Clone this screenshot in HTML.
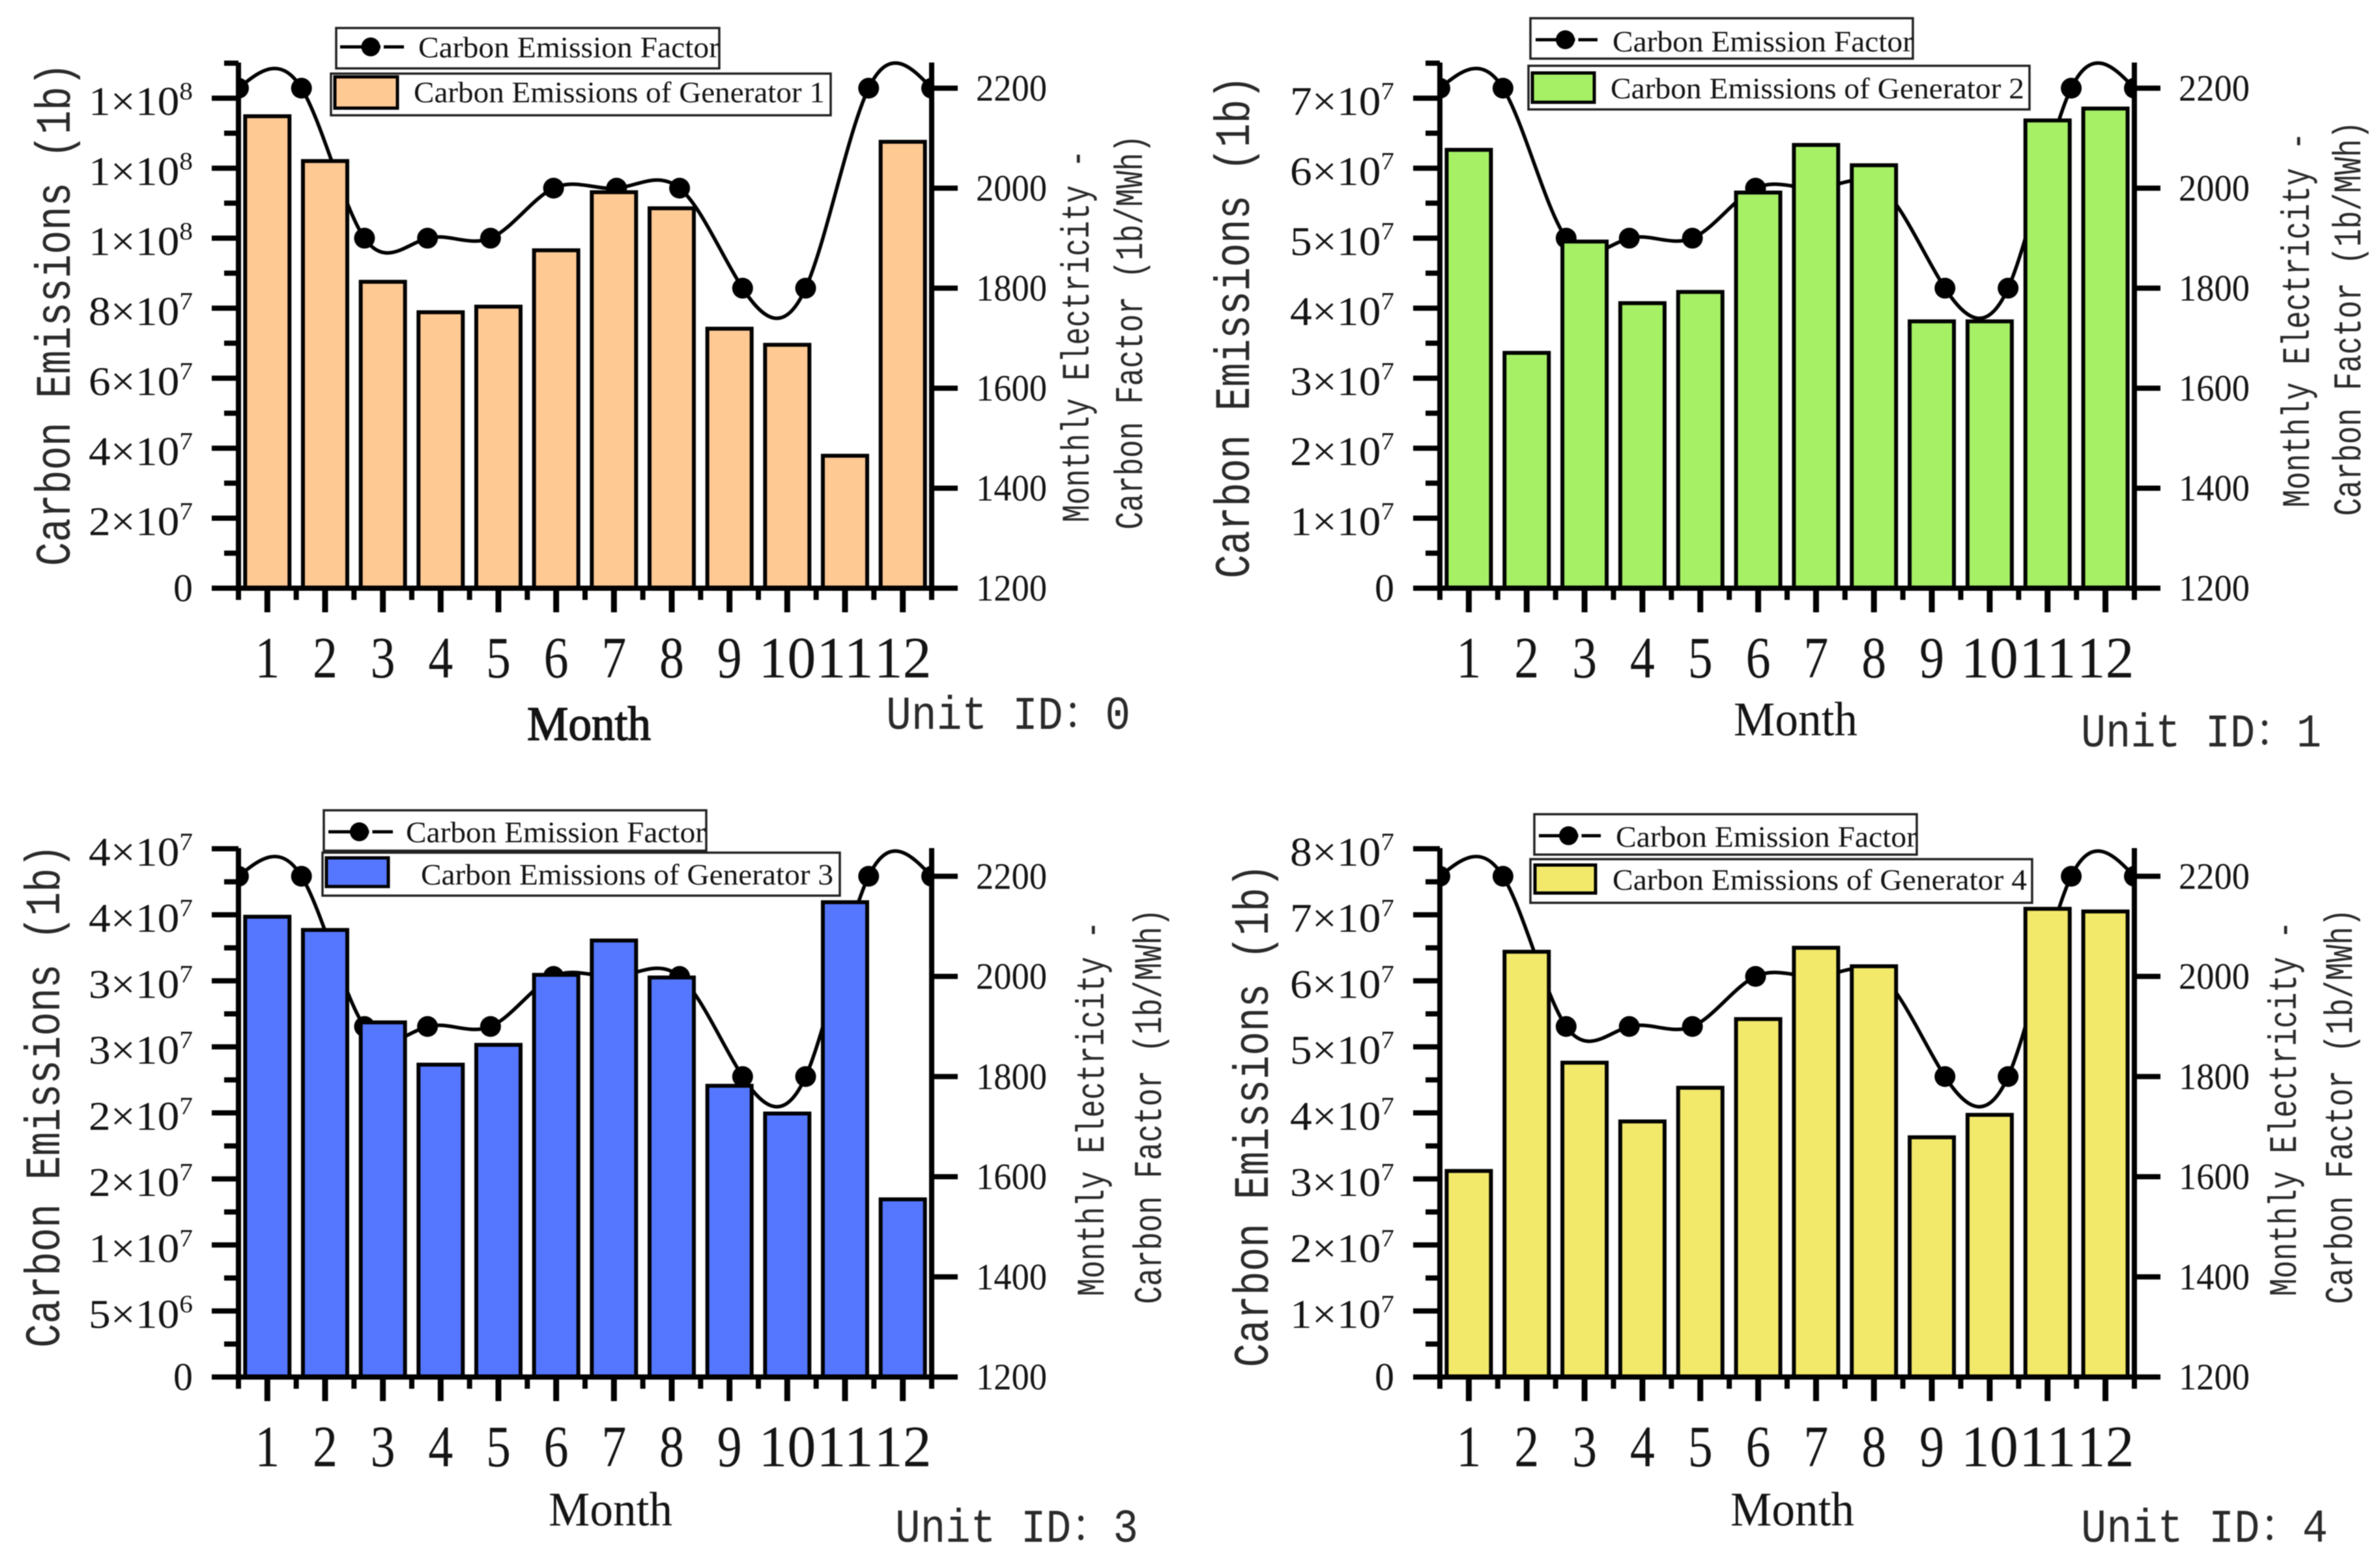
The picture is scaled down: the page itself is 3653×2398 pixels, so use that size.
<!DOCTYPE html>
<html lang="en">
<head>
<meta charset="utf-8">
<title>Monthly Carbon Emissions by Generator</title>
<style>
html,body{margin:0;padding:0;background:#fff;}
#figure{display:block;width:3653px;height:2398px;background:#fff;filter:blur(0.7px);}
text{fill:#141414;white-space:pre;}
.serif{font-family:"Liberation Serif","Noto Serif CJK SC",serif;}
.mono{font-family:"Liberation Mono","Noto Serif CJK SC",monospace;fill:#2a2a2a;}
</style>
</head>
<body>
<svg id="figure" xmlns="http://www.w3.org/2000/svg" width="3653" height="2398" viewBox="0 0 3653 2398"></svg>
<script>
// ---- Chart data ----
const months = ['1','2','3','4','5','6','7','8','9','10','11','12'];
const emissionFactor = [2200,2200,1900,1900,1900,2000,2000,2000,1800,1800,2200,2200];
const gen1Emissions = [1.354e8,1.226e8,8.81e7,7.94e7,8.10e7,9.71e7,1.137e8,1.091e8,7.47e7,7.01e7,3.84e7,1.281e8];
const gen2Emissions = [6.29e7,3.39e7,4.98e7,4.10e7,4.26e7,5.68e7,6.36e7,6.07e7,3.84e7,3.84e7,6.71e7,6.88e7];
const gen3Emissions = [3.50e7,3.40e7,2.70e7,2.38e7,2.53e7,3.06e7,3.32e7,3.04e7,2.22e7,2.01e7,3.61e7,1.36e7];
const gen4Emissions = [3.15e7,6.47e7,4.79e7,3.90e7,4.41e7,5.45e7,6.53e7,6.25e7,3.66e7,4.00e7,7.12e7,7.08e7];
const gen1TickValues = [0,2e7,4e7,6e7,8e7,1e8,1.2e8,1.4e8];
const gen2TickValues = [0,1e7,2e7,3e7,4e7,5e7,6e7,7e7];
const gen3TickValues = [0,5e6,1e7,1.5e7,2e7,2.5e7,3e7,3.5e7,4e7];
const gen4TickValues = [0,1e7,2e7,3e7,4e7,5e7,6e7,7e7,8e7];
const gen1TickLabels = ['0','2×10^7','4×10^7','6×10^7','8×10^7','1×10^8','1×10^8','1×10^8'];
const gen2TickLabels = ['0','1×10^7','2×10^7','3×10^7','4×10^7','5×10^7','6×10^7','7×10^7'];
const gen3TickLabels = ['0','5×10^6','1×10^7','2×10^7','2×10^7','3×10^7','3×10^7','4×10^7','4×10^7'];
const gen4TickLabels = ['0','1×10^7','2×10^7','3×10^7','4×10^7','5×10^7','6×10^7','7×10^7','8×10^7'];
const factorTickValues = [1200,1400,1600,1800,2000,2200];

// ---- Panel layout ----
const panels = [
  {id:1, unit:0, color:'#FFC994', values:gen1Emissions, ticks:gen1TickValues, labels:gen1TickLabels, leftMax:1.5e8, rightMax:2250,
   left:366, right:1430, top:97, base:903,
   yTitle:[107,96,869], r1:[1671,230,802], r2:[1753,207,813],
   month:[904,1136,1], unitText:[1360,1119,375],
   box1:[516,43,588,62], box2:[508,113,767,64], swatch:[514,118,96,48],
   marker:[522,620,72], text1:[642,88,462], text2:[635,157,631]},
  {id:2, unit:1, color:'#A6F066', values:gen2Emissions, ticks:gen2TickValues, labels:gen2TickLabels, leftMax:7.5e7, rightMax:2250,
   left:2210, right:3276, top:97, base:903,
   yTitle:[1917,116,888], r1:[3544,203,779], r2:[3623,186,792],
   month:[2756,1129,0], unitText:[3194,1146,369],
   box1:[2349,28,587,62], box2:[2346,101,769,67], swatch:[2352,112,95,45],
   marker:[2357,2452,61], text1:[2475,79,461], text2:[2472,151,635]},
  {id:3, unit:3, color:'#5577FF', values:gen3Emissions, ticks:gen3TickValues, labels:gen3TickLabels, leftMax:4e7, rightMax:2255,
   left:366, right:1430, top:1303, base:2114,
   yTitle:[91,1296,2069], r1:[1694,1414,1990], r2:[1782,1395,2002],
   month:[937,2342,0], unitText:[1374,2367,373],
   box1:[497,1244,587,62], box2:[495,1309,794,66], swatch:[501,1317,95,44],
   marker:[504,603,1277], text1:[623,1293,460], text2:[646,1358,633]},
  {id:4, unit:4, color:'#F2E96B', values:gen4Emissions, ticks:gen4TickValues, labels:gen4TickLabels, leftMax:8e7, rightMax:2255,
   left:2210, right:3276, top:1303, base:2114,
   yTitle:[1946,1326,2099], r1:[3524,1414,1990], r2:[3610,1395,2002],
   month:[2751,2342,0], unitText:[3194,2367,379],
   box1:[2355,1250,587,62], box2:[2349,1319,770,67], swatch:[2356,1328,93,43],
   marker:[2362,2457,1283], text1:[2480,1300,462], text2:[2475,1366,636]}
];

const SVG_NS = 'http://www.w3.org/2000/svg';
const figure = document.getElementById('figure');

function make(tag, parent, attrs) {
  const node = document.createElementNS(SVG_NS, tag);
  for (const key in attrs) node.setAttribute(key, attrs[key]);
  parent.appendChild(node);
  return node;
}

function fittedText(parent, cls, x, y, size, width, content, anchor) {
  const node = make('text', parent, {class:cls, x:x, y:y, 'font-size':size, textLength:width, lengthAdjust:'spacingAndGlyphs', 'text-anchor':anchor || 'start'});
  node.textContent = content;
  return node;
}

function rotatedText(parent, cls, baselineX, y0, y1, size, content) {
  const cy = (y0 + y1) / 2;
  const node = make('text', parent, {class:cls, x:baselineX, y:cy, 'font-size':size, textLength:y1 - y0, lengthAdjust:'spacingAndGlyphs', 'text-anchor':'middle', transform:'rotate(-90 ' + baselineX + ' ' + cy + ')'});
  node.textContent = content;
  return node;
}

// Natural cubic spline through pixel points, returned as a Bezier path.
function splinePath(xs, ys) {
  const n = xs.length;
  const h = xs[1] - xs[0];
  const a = new Array(n).fill(0), c = new Array(n).fill(0), m = new Array(n).fill(0);
  for (let i = 1; i < n - 1; i++) {
    const rhs = 6 * (ys[i + 1] - 2 * ys[i] + ys[i - 1]) / (h * h);
    const pivot = 4 - c[i - 1];
    c[i] = 1 / pivot;
    a[i] = (rhs - a[i - 1]) / pivot;
  }
  for (let i = n - 2; i >= 1; i--) m[i] = a[i] - c[i] * m[i + 1];
  let d = 'M' + xs[0] + ' ' + ys[0];
  for (let i = 0; i < n - 1; i++) {
    const slope0 = (ys[i + 1] - ys[i]) / h - h * (2 * m[i] + m[i + 1]) / 6;
    const slope1 = (ys[i + 1] - ys[i]) / h + h * (m[i] + 2 * m[i + 1]) / 6;
    d += 'C' + (xs[i] + h / 3).toFixed(2) + ' ' + (ys[i] + slope0 * h / 3).toFixed(2) + ' ' +
         (xs[i + 1] - h / 3).toFixed(2) + ' ' + (ys[i + 1] - slope1 * h / 3).toFixed(2) + ' ' +
         xs[i + 1].toFixed(2) + ' ' + ys[i + 1].toFixed(2);
  }
  return d;
}

panels.forEach(function (p) {
  const leftY = function (v) { return p.base - (v / p.leftMax) * (p.base - p.top); };
  const rightY = function (v) { return p.base - ((v - 1200) / (p.rightMax - 1200)) * (p.base - p.top); };
  const band = (p.right - p.left) / months.length;
  const bandX = function (i) { return p.left + band * (i + 0.5); };
  const lineX = function (i) { return p.left + (p.right - p.left) * i / (emissionFactor.length - 1); };

  const panel = make('g', figure, {});
  
  

  // Clip region for the line series
  const clip = make('clipPath', panel, {id:'plot-clip-' + p.id});
  make('rect', clip, {x:p.left, y:p.top - 20, width:p.right - p.left, height:p.base - p.top + 20});

  // Emission factor line (drawn behind the bars)
  const series = make('g', panel, {'clip-path':'url(#plot-clip-' + p.id + ')'});
  
  
  const xs = emissionFactor.map(function (v, i) { return lineX(i); });
  const ys = emissionFactor.map(function (v) { return rightY(v); });
  const curve = make('path', series, {d:splinePath(xs, ys), fill:'none', stroke:'#000', 'stroke-width':5.5});
  
  
  emissionFactor.forEach(function (v, i) {
    const dot = make('circle', series, {cx:lineX(i), cy:rightY(v), r:16, fill:'#000'});
    
    
  });

  // Bars (the outer edge of the outline sits on the value)
  const barGroup = make('g', panel, {});
  
  
  p.values.forEach(function (v, i) {
    const barTop = leftY(v) + 3;
    const bar = make('rect', barGroup, {x:bandX(i) - 34, y:barTop, width:68, height:p.base - barTop, fill:p.color, stroke:'#000', 'stroke-width':6});
    
    
  });

  // Axes
  const axisGroup = make('g', panel, {stroke:'#000', fill:'none'});
  
  
  const leftAxis = make('line', axisGroup, {x1:p.left, x2:p.left, y1:p.top - 1, y2:p.base + 4, 'stroke-width':8});
  
  
  const rightAxis = make('line', axisGroup, {x1:p.right, x2:p.right, y1:p.top - 1, y2:p.base + 4, 'stroke-width':8});
  
  
  const xAxis = make('line', axisGroup, {x1:p.left - 41, x2:p.right + 40, y1:p.base, y2:p.base, 'stroke-width':8});
  
  

  // Left ticks and labels
  p.ticks.forEach(function (v, i) {
    const y = leftY(v);
    const tick = make('line', axisGroup, {x1:p.left - 41, x2:p.left, y1:y, y2:y, 'stroke-width':8});
    
    

    const step = p.ticks[1] - p.ticks[0];
    if (v + step / 2 <= p.leftMax) {
      const my = leftY(v + step / 2);
      const minor = make('line', axisGroup, {x1:p.left - 22, x2:p.left, y1:my, y2:my, 'stroke-width':8});
      
      
    }

    const parts = p.labels[i].split('^');
    const labelRight = p.left - 70;
    if (parts.length === 1) {
      const zero = make('text', panel, {class:'serif', x:labelRight, y:y + 20, 'font-size':60, 'text-anchor':'end'});
      zero.textContent = parts[0];
      
      
    } else {
      const label = make('text', panel, {class:'serif', x:labelRight - 160, y:y + 26, 'font-size':62, textLength:160, lengthAdjust:'spacingAndGlyphs'});
      
      
      const base = make('tspan', label, {});
      base.textContent = parts[0];
      const sup = make('tspan', label, {dy:-24, 'font-size':38});
      sup.textContent = parts[1];
    }
  });

  // Right ticks and labels
  factorTickValues.forEach(function (v) {
    const y = rightY(v);
    const tick = make('line', axisGroup, {x1:p.right, x2:p.right + 40, y1:y, y2:y, 'stroke-width':8});
    
    
    const label = fittedText(panel, 'serif', p.right + 68, y + 19, 57, 109, String(v));
    
    
  });

  // X ticks and labels
  months.forEach(function (m, i) {
    const x = bandX(i);
    const major = make('line', axisGroup, {x1:x, x2:x, y1:p.base, y2:p.base + 37, 'stroke-width':9});
    
    
    const edge = p.left + band * i;
    const minor = make('line', axisGroup, {x1:edge, x2:edge, y1:p.base, y2:p.base + 18, 'stroke-width':8});
    
    
    const labelWidth = m.length > 1 ? 88 : 38;
    const label = fittedText(panel, 'serif', x, p.base + 137, 90, labelWidth, m, 'middle');
    
    
  });
  const lastMinor = make('line', axisGroup, {x1:p.right, x2:p.right, y1:p.base, y2:p.base + 18, 'stroke-width':8});
  
  

  // Titles
  const yTitle = rotatedText(panel, 'mono', p.yTitle[0], p.yTitle[1], p.yTitle[2], 76, 'Carbon Emissions (1b)');
  
  
  const rTitle1 = rotatedText(panel, 'mono', p.r1[0], p.r1[1], p.r1[2], 60, 'Monthly Electricity -');
  
  
  const rTitle2 = rotatedText(panel, 'mono', p.r2[0], p.r2[1], p.r2[2], 60, 'Carbon Factor (1b/MWh)');
  
  

  const monthTitle = fittedText(panel, 'serif', p.month[0], p.month[1], 74, 190, 'Month', 'middle');
  if (p.month[2]) {
    monthTitle.setAttribute('stroke', '#141414');
    monthTitle.setAttribute('stroke-width', '1.6');
  }
  
  

  const unitLabel = fittedText(panel, 'mono', p.unitText[0], p.unitText[1], 72, p.unitText[2], 'Unit ID：' + p.unit);
  
  

  // Legend
  const legend = make('g', panel, {});
  
  

  const entry1 = make('g', legend, {});
  
  
  make('rect', entry1, {x:p.box1[0], y:p.box1[1], width:p.box1[2], height:p.box1[3], fill:'#fff', stroke:'#222', 'stroke-width':3.5});
  const midX = (p.marker[0] + p.marker[1]) / 2 - 2;
  make('line', entry1, {x1:p.marker[0], x2:p.marker[1], y1:p.marker[2], y2:p.marker[2], stroke:'#000', 'stroke-width':5});
  make('line', entry1, {x1:midX + 15, x2:midX + 20, y1:p.marker[2], y2:p.marker[2], stroke:'#fff', 'stroke-width':7});
  make('circle', entry1, {cx:midX, cy:p.marker[2], r:14.5, fill:'#000'});
  const text1 = fittedText(entry1, 'serif', p.text1[0], p.text1[1], 46, p.text1[2], 'Carbon Emission Factor');
  
  

  const entry2 = make('g', legend, {});
  
  
  make('rect', entry2, {x:p.box2[0], y:p.box2[1], width:p.box2[2], height:p.box2[3], fill:'#fff', stroke:'#222', 'stroke-width':3.5});
  make('rect', entry2, {x:p.swatch[0], y:p.swatch[1], width:p.swatch[2], height:p.swatch[3], fill:p.color, stroke:'#000', 'stroke-width':5});
  const text2 = fittedText(entry2, 'serif', p.text2[0], p.text2[1], 46, p.text2[2], 'Carbon Emissions of Generator ' + p.id);
  
  
});
</script>
</body>
</html>
